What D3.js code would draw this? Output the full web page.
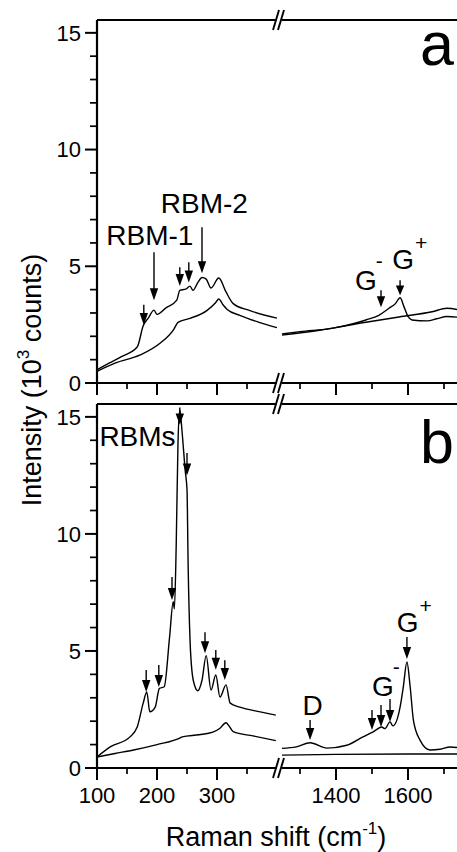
<!DOCTYPE html>
<html><head><meta charset="utf-8">
<script src="https://cdn.jsdelivr.net/npm/d3@7"></script>
<style>
body{margin:0;background:#fff}
text{font-family:"Liberation Sans",Arial,Helvetica,sans-serif;fill:#000}
</style>
</head><body>
<svg id="chart" width="457" height="852"></svg>
<script>
// ---------- data ----------
const yTickLabels = [0, 5, 10, 15];
const yMinorTicks = [1, 2, 3, 4, 6, 7, 8, 9, 11, 12, 13, 14];
const xLeftTickLabels = [100, 200, 300];
const xLeftMinorTicks = [150, 250, 350];
const xRightTickLabels = [1400, 1600];
const xRightMinorTicks = [1300, 1500, 1700];
const xLeftDomain = [100, 400];
const xRightDomain = [1250, 1750];
const yDomain = [0, 15.55];

// panel a spectra [Raman shift, intensity (10^3 counts)]
const aUpperLow = [[100,0.56],[120,0.85],[140,1.12],[167,1.54],[177,2.45],[186,2.8],[195,3.12],[200,2.94],[215,3.22],[233,3.55],[238,3.97],[248,4.02],[255,4.15],[260,3.97],[268,4.3],[275,4.52],[282,4.45],[290,4.07],[303,4.5],[315,3.9],[327,3.4],[355,3.1],[400,2.78]];
const aLowerLow = [[100,0.5],[130,0.85],[172,1.2],[205,1.7],[228,2.3],[235,2.6],[255,2.77],[283,3.1],[298,3.45],[303,3.6],[310,3.35],[317,3.15],[338,2.9],[370,2.6],[400,2.37]];
const aUpperHigh = [[1250,2.1],[1300,2.2],[1392,2.35],[1450,2.55],[1483,2.7],[1519,2.9],[1547,3.2],[1565,3.4],[1578,3.65],[1589,3.26],[1600,2.85],[1611,2.7],[1653,2.66],[1680,2.75],[1708,2.85],[1750,2.8]];
const aLowerHigh = [[1250,2.05],[1350,2.25],[1483,2.6],[1575,2.83],[1667,3.05],[1708,3.2],[1750,3.1]];

// panel b spectra
const bUpperLow = [[100,0.47],[122,0.9],[155,1.33],[167,1.75],[177,2.77],[183,3.25],[188,2.4],[197,2.6],[204,3.4],[212,3.47],[221,5.6],[227,7.1],[229,6.8],[232,9.5],[235,13.9],[238,15.3],[242,14.3],[247,12.7],[250,11.9],[252,8.5],[255,5.5],[258,4.2],[263,3.5],[268,3.3],[275,3.75],[282,4.8],[290,3.33],[298,3.97],[305,3.03],[315,3.55],[322,2.77],[338,2.6],[372,2.4],[398,2.26]];
const bLowerLow = [[100,0.47],[130,0.62],[161,0.77],[200,1.0],[238,1.28],[242,1.33],[270,1.42],[293,1.53],[305,1.7],[315,1.93],[320,1.8],[327,1.55],[360,1.37],[398,1.17]];
const bUpperHigh = [[1250,0.84],[1290,0.9],[1328,1.08],[1375,0.85],[1430,0.97],[1475,1.33],[1503,1.54],[1527,1.75],[1536,1.68],[1550,1.97],[1558,1.8],[1578,2.6],[1587,3.47],[1597,4.53],[1606,3.47],[1615,2.05],[1633,1.2],[1661,0.77],[1689,0.8],[1717,0.9],[1750,0.85]];
const bLowerHigh = [[1250,0.55],[1400,0.58],[1600,0.6],[1750,0.6]];

// arrows [shift, tail intensity, tip intensity]
const aArrows = [[178,3.35,2.48],[195,5.6,3.55],[238,4.96,4.15],[253,5.17,4.3],[275,6.67,4.7],[1525,3.97,3.25],[1578,4.4,3.76]];
const bArrows = [[182,4.19,3.25],[203,4.4,3.46],[225,8.16,7.18],[238,15.4,14.66],[250,13.46,12.5],[280,5.8,4.9],[298,5.04,4.2],[313,4.6,3.76],[1328,2.05,1.2],[1500,2.48,1.62],[1525,2.69,1.75],[1550,2.95,1.97],[1597,5.6,4.66]];

// labels [text, superscript, shift, intensity, anchor]
const aLabels = [["RBM-1","",188,5.9,"middle"],["RBM-2","",279,7.3,"middle"],["G","-",1453,3.97,"start"],["G","+",1556,4.87,"start"]];
const bLabels = [["RBMs","",104,13.76,"start"],["D","",1335,2.26,"middle"],["G","-",1500,3.08,"start"],["G","+",1569,5.81,"start"]];

// ---------- drawing ----------
const svg = d3.select("#chart");
const xL = d3.scaleLinear().domain(xLeftDomain).range([97, 277]);
const xR = d3.scaleLinear().domain(xRightDomain).range([282, 462]);
const xOf = v => v >= 1000 ? xR(v) : xL(v);

function panel(top, bottom, series, arrows, labels, letter, showXLabels) {
  const y = d3.scaleLinear().domain(yDomain).range([bottom, top]);
  const g = svg.append("g");
  const line = d3.line().x(d => xOf(d[0])).y(d => y(d[1])).curve(d3.curveMonotoneX);
  series.forEach(s => g.append("path").attr("d", line(s)).attr("fill","none").attr("stroke","#000").attr("stroke-width",1.4));

  const axisW = 2.2;
  const gapL = xL.range()[1], gapR = xR.range()[0];
  [top, bottom].forEach(yy => {
    g.append("line").attr("x1", 97).attr("x2", gapL).attr("y1", yy).attr("y2", yy).attr("stroke","#000").attr("stroke-width",axisW);
    g.append("line").attr("x1", gapR).attr("x2", 470).attr("y1", yy).attr("y2", yy).attr("stroke","#000").attr("stroke-width",axisW);
    [gapL - 1, gapR - 1].forEach(cx => {
      g.append("line").attr("x1", cx - 3).attr("y1", yy + 10).attr("x2", cx + 3).attr("y2", yy - 10).attr("stroke","#000").attr("stroke-width",1.9);
    });
  });
  g.append("line").attr("x1",97).attr("x2",97).attr("y1",top).attr("y2",bottom + 1).attr("stroke","#000").attr("stroke-width",axisW);

  yTickLabels.forEach(v => {
    g.append("line").attr("x1",85).attr("x2",97).attr("y1",y(v)).attr("y2",y(v)).attr("stroke","#000").attr("stroke-width",2);
    g.append("text").attr("x",81).attr("y",y(v)).attr("dy","0.36em").attr("text-anchor","end").attr("font-size",22).text(v);
  });
  yMinorTicks.forEach(v => {
    g.append("line").attr("x1",90).attr("x2",97).attr("y1",y(v)).attr("y2",y(v)).attr("stroke","#000").attr("stroke-width",1.7);
  });
  const major = xLeftTickLabels.map(xL).concat(xRightTickLabels.map(xR));
  const minor = xLeftMinorTicks.map(xL).concat(xRightMinorTicks.map(xR));
  major.forEach(px => g.append("line").attr("x1",px).attr("x2",px).attr("y1",bottom).attr("y2",bottom+12).attr("stroke","#000").attr("stroke-width",2));
  minor.forEach(px => g.append("line").attr("x1",px).attr("x2",px).attr("y1",bottom).attr("y2",bottom+6).attr("stroke","#000").attr("stroke-width",1.7));
  if (showXLabels) {
    xLeftTickLabels.concat(xRightTickLabels).forEach(v => {
      g.append("text").attr("x", xOf(v)).attr("y", bottom + 35).attr("text-anchor","middle").attr("font-size",22).text(v);
    });
  }

  arrows.forEach(([xv, tail, tip]) => {
    const px = xOf(xv), y0 = y(tail), y1 = y(tip);
    const hl = Math.min(12, (y1 - y0) * 0.65), hw = 4.2;
    g.append("line").attr("x1",px).attr("x2",px).attr("y1",y0).attr("y2",y1 - hl + 1).attr("stroke","#000").attr("stroke-width",1.4);
    g.append("path").attr("d", `M${px - hw},${y1 - hl}L${px + hw},${y1 - hl}L${px},${y1}Z`).attr("fill","#000");
  });

  labels.forEach(([t, sup, xv, yv, anchor]) => {
    const tx = g.append("text").attr("x", xOf(xv)).attr("y", y(yv)).attr("text-anchor", anchor).attr("font-size", 28).text(t);
    if (sup) tx.append("tspan").attr("font-size", 21).attr("dx", sup === "-" ? -1 : 1).attr("dy", sup === "-" ? -22 : -19).text(sup);
  });

  g.append("text").attr("x", 420).attr("y", top + (letter === "a" ? 45 : 59)).attr("font-size", 61).text(letter);
}

panel(20, 383, [aUpperLow, aLowerLow, aUpperHigh, aLowerHigh], aArrows, aLabels, "a", false);
panel(404, 768, [bUpperLow, bLowerLow, bUpperHigh, bLowerHigh], bArrows, bLabels, "b", true);

const yt = svg.append("text").attr("transform","translate(41,380) rotate(-90)").attr("text-anchor","middle").attr("font-size",27);
yt.append("tspan").text("Intensity (10");
yt.append("tspan").attr("font-size",17).attr("dy",-12).text("3");
yt.append("tspan").attr("dy",12).text(" counts)");
const xt = svg.append("text").attr("x",276).attr("y",846).attr("text-anchor","middle").attr("font-size",27);
xt.append("tspan").text("Raman shift (cm");
xt.append("tspan").attr("font-size",17).attr("dy",-12).text("-1");
xt.append("tspan").attr("dy",12).text(")");
</script>
</body></html>
